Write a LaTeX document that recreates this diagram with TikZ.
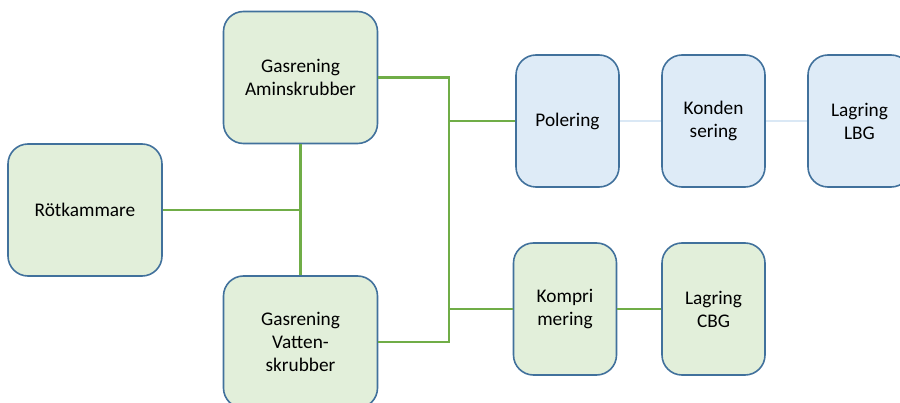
\documentclass[tikz,border=0pt]{standalone}
\usepackage{fontspec}
\setmainfont{Carlito}
\definecolor{bordc}{HTML}{41719C}
\definecolor{gfill}{HTML}{E2EFDA}
\definecolor{bfill}{HTML}{DEEBF7}
\definecolor{gline}{HTML}{70AD47}
\definecolor{bline}{HTML}{DAE8F5}
\begin{document}
\begin{tikzpicture}[x=1pt,y=-1pt,
  box/.style={draw=bordc,line width=1.6pt,rounded corners=20pt,minimum width=#1,align=center,
    font=\fontsize{19.3}{23}\selectfont,inner sep=0pt},
  gbox/.style={box=154pt,fill=gfill,minimum height=132pt},
  sbox/.style={box=103pt,minimum height=132pt},
  glink/.style={draw=gline,line width=2.6pt},
  blink/.style={draw=bline,line width=2.2pt}]
\useasboundingbox (0,0) rectangle (900,403);
\clip (0,0) rectangle (900,403);
\node[gbox] (rot) at (85,210) {Rötkammare};
\node[gbox] (amin) at (300.5,77.5) {Gasrening\\Aminskrubber};
\node[gbox] (vat) at (300.5,342) {Gasrening\\Vatten-\\skrubber};
\node[sbox,fill=bfill] (pol) at (567.5,121) {Polering};
\node[sbox,fill=bfill] (kon) at (713.5,121) {Konden\\sering};
\node[sbox,fill=bfill] (lbg) at (859.5,121) {Lagring\\LBG};
\node[sbox,fill=gfill] (komp) at (565,309) {Kompri\\mering};
\node[sbox,fill=gfill] (cbg) at (713.5,309) {Lagring\\CBG};
\coordinate (j1) at (300.5,210);
\coordinate (t1) at (449,77.5);
\coordinate (t2) at (449,342);
\coordinate (b1) at (449,121);
\coordinate (b2) at (449,309);
\draw[glink] (rot.east) -- (j1);
\draw[glink] (amin.south) -- (vat.north);
\draw[glink] (amin.east) -- (t1) -- (t2) -- (vat.east);
\draw[glink] (b1) -- (pol.west);
\draw[glink] (b2) -- (komp.west);
\draw[glink] (komp.east) -- (cbg.west);
\draw[blink] (pol.east) -- (kon.west);
\draw[blink] (kon.east) -- (lbg.west);
\end{tikzpicture}
\end{document}
